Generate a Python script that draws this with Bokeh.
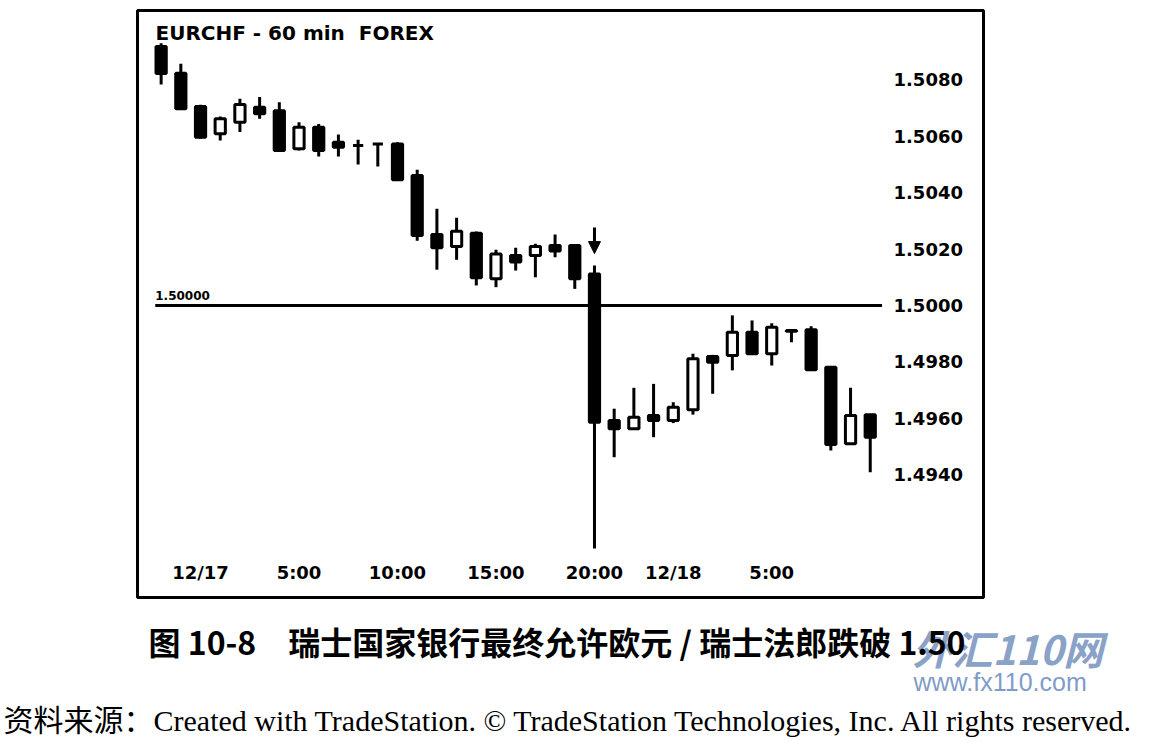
from bokeh.plotting import figure
from bokeh.models import (Range1d, LinearAxis, FixedTicker, Label, Arrow,
                          NormalHead, ColumnDataSource)
from bokeh.embed import file_html
from bokeh.resources import INLINE

# ---- data (hours relative to 12/17 00:00) ----
hours = list(range(-2, 35))
opens = [1.50918, 1.50824, 1.50706, 1.50609, 1.50650, 1.50703, 1.50691, 1.50556,
         1.50632, 1.50579, 1.50567, 1.50573, 1.50573, 1.50461, 1.50252, 1.50209,
         1.50256, 1.50095, 1.50177, 1.50177, 1.50213, 1.50213, 1.50112, 1.49592,
         1.49563, 1.49610, 1.49592, 1.49630, 1.49819, 1.49823, 1.49905, 1.49829,
         1.49911, 1.49914, 1.49781, 1.49510, 1.49613]
closes = [1.50823, 1.50698, 1.50597, 1.50662, 1.50713, 1.50680, 1.50550, 1.50632,
          1.50550, 1.50561, 1.50567, 1.50573, 1.50446, 1.50248, 1.50205, 1.50263,
          1.50098, 1.50183, 1.50154, 1.50209, 1.50193, 1.50095, 1.49586, 1.49563,
          1.49604, 1.49592, 1.49639, 1.49811, 1.49799, 1.49905, 1.49829, 1.49923,
          1.49909, 1.49772, 1.49507, 1.49610, 1.49533]
highs = [1.50930, 1.50857, 1.50712, 1.50670, 1.50733, 1.50739, 1.50721, 1.50650,
         1.50644, 1.50606, 1.50588, 1.50576, 1.50579, 1.50481, 1.50343, 1.50311,
         1.50262, 1.50198, 1.50205, 1.50219, 1.50252, 1.50218, 1.50142, 1.49634,
         1.49708, 1.49722, 1.49657, 1.49829, 1.49825, 1.49965, 1.49947, 1.49937,
         1.49913, 1.49926, 1.49781, 1.49708, 1.49613]
lows = [1.50784, 1.50698, 1.50591, 1.50585, 1.50615, 1.50662, 1.50550, 1.50550,
        1.50528, 1.50528, 1.50500, 1.50493, 1.50446, 1.50230, 1.50127, 1.50162,
        1.50071, 1.50065, 1.50124, 1.50100, 1.50171, 1.50059, 1.49138, 1.49462,
        1.49563, 1.49533, 1.49583, 1.49613, 1.49687, 1.49770, 1.49829, 1.49787,
        1.49870, 1.49772, 1.49486, 1.49510, 1.49409]

price_ticks = [1.4940, 1.4960, 1.4980, 1.5000, 1.5020, 1.5040, 1.5060, 1.5080]
time_ticks = [0, 5, 10, 15, 20, 24, 29]
time_labels = ["12/17", "5:00", "10:00", "15:00", "20:00", "12/18", "5:00"]

level_value = 1.5000
level_label = "1.50000"
level_span = [-2.3, 34.6]

arrow_hour = 20
arrow_top = 1.50277
arrow_bottom = 1.50184

title_text = "EURCHF - 60 min\u00a0\u00a0FOREX"
caption_text = "图 10-8　瑞士国家银行最终允许欧元 / 瑞士法郎跌破 1.50"
source_text = "资料来源：Created with TradeStation. © TradeStation Technologies, Inc. All rights reserved."
watermark_cn = "外汇110网"
watermark_url = "www.fx110.com"

FONT = "DejaVu Sans"

# ---- chart figure ----
p = figure(frame_width=846, frame_height=587, output_backend="svg", toolbar_location=None,
           x_range=Range1d(-3.2, 39.75), y_range=Range1d(1.489645, 1.510461),
           min_border_left=137, min_border_top=10, min_border_right=162,
           min_border_bottom=3, x_axis_location=None, y_axis_location=None)
p.grid.visible = False
p.outline_line_color = "black"
p.outline_line_width = 3
p.background_fill_color = "white"
p.border_fill_color = "white"

yaxis = LinearAxis(ticker=FixedTicker(ticks=price_ticks),
                   major_label_overrides={t: f"{t:.4f}" for t in price_ticks})
yaxis.axis_line_color = None
yaxis.major_tick_line_color = None
yaxis.minor_tick_line_color = None
yaxis.major_tick_out = 0
yaxis.major_label_standoff = -90
yaxis.major_label_text_font = FONT
yaxis.major_label_text_font_style = "bold"
yaxis.major_label_text_font_size = "18px"
yaxis.major_label_text_color = "black"
p.add_layout(yaxis, "right")

xaxis = LinearAxis(ticker=FixedTicker(ticks=time_ticks),
                   major_label_overrides=dict(zip(time_ticks, time_labels)))
xaxis.axis_line_color = None
xaxis.major_tick_line_color = None
xaxis.minor_tick_line_color = None
xaxis.major_tick_out = 0
xaxis.major_label_standoff = -36
xaxis.major_label_text_font = FONT
xaxis.major_label_text_font_style = "bold"
xaxis.major_label_text_font_size = "18px"
xaxis.major_label_text_color = "black"
p.add_layout(xaxis, "below")

# level line
p.line(level_span, [level_value, level_value], line_color="black", line_width=3)
p.add_layout(Label(x=level_span[0], y=level_value, text=level_label, y_offset=5,
                   text_font=FONT, text_font_style="bold", text_font_size="12px",
                   text_color="black"))

# candles
src = ColumnDataSource(dict(
    x=hours, o=opens, c=closes, h=highs, l=lows,
    top=[max(o, c) for o, c in zip(opens, closes)],
    bot=[min(o, c) for o, c in zip(opens, closes)],
    fill=["white" if c - o > 0.00012 else "black" for o, c in zip(opens, closes)],
))
p.segment(x0="x", y0="h", x1="x", y1="l", source=src, line_color="black", line_width=3)
p.vbar(x="x", top="top", bottom="bot", width=0.52, source=src,
       fill_color="fill", line_color="black", line_width=3)

# arrow above breakout bar
p.add_layout(Arrow(end=NormalHead(size=12, fill_color="black", line_color="black"),
                   x_start=arrow_hour, y_start=arrow_top, x_end=arrow_hour, y_end=arrow_bottom,
                   line_color="black", line_width=3))

# chart title inside box
p.add_layout(Label(x=18, y=565, x_units="screen", y_units="screen", text=title_text,
                   text_baseline="middle",
                   text_font=FONT, text_font_style="bold", text_font_size="20px",
                   text_color="black"))

# ---- caption strip (separate root, no frame alignment) ----
c = figure(width=1145, height=138, output_backend="svg", toolbar_location=None,
           x_range=Range1d(0, 1), y_range=Range1d(0, 1),
           min_border=0, x_axis_location=None, y_axis_location=None)
c.grid.visible = False
c.outline_line_color = None
c.background_fill_color = "white"
c.border_fill_color = "white"

c.add_layout(Label(x=912, y=91, x_units="screen", y_units="screen", text=watermark_cn,
                   text_baseline="middle", text_font="Noto Sans CJK SC",
                   text_font_style="bold italic", text_font_size="40px",
                   text_color="#8aa2c8"))
c.add_layout(Label(x=913, y=57, x_units="screen", y_units="screen", text=watermark_url,
                   text_baseline="middle", text_font="Liberation Sans",
                   text_font_size="25px", text_color="#7f9cc8"))
c.add_layout(Label(x=148, y=98, x_units="screen", y_units="screen", text=caption_text,
                   text_baseline="middle", text_font="Noto Sans CJK SC",
                   text_font_style="bold", text_font_size="32px", text_color="black"))
c.add_layout(Label(x=3, y=18, x_units="screen", y_units="screen", text=source_text,
                   text_baseline="middle",
                   text_font="'Liberation Serif', 'Noto Sans CJK SC'",
                   text_font_size="30px", text_color="black"))

open("out.html", "w").write(file_html([p, c], INLINE))
